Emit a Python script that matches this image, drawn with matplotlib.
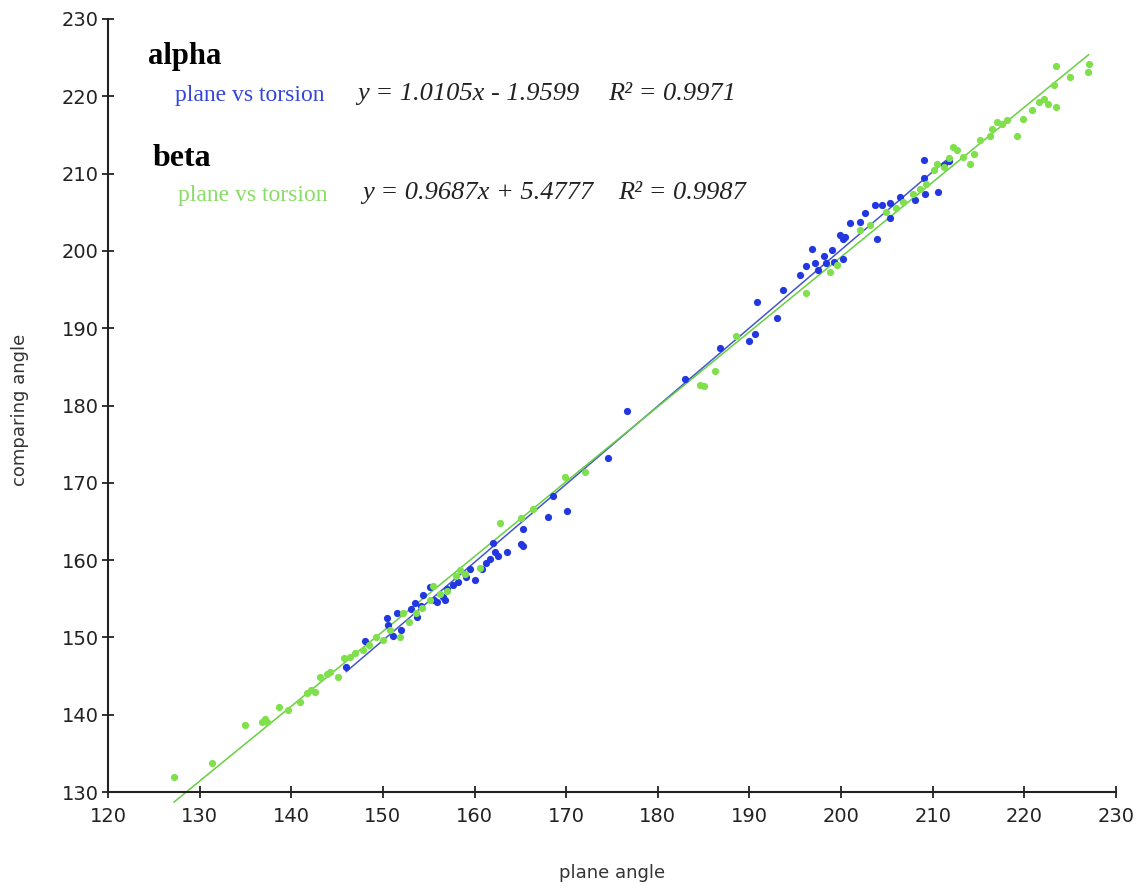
import matplotlib.pyplot as plt
import numpy as np

# alpha: plane vs torsion (blue)
alpha_x = [146.0, 148.0, 150.4, 150.6, 151.1, 151.5, 152.0, 153.1, 153.5, 153.7, 154.2, 154.4,
           155.1, 155.6, 155.9, 156.6, 156.8, 157.0, 157.7, 158.2, 159.1, 159.5, 160.0, 160.8,
           161.3, 161.7, 162.0, 162.2, 162.6, 163.5, 165.1, 165.3, 165.3, 168.0, 168.6, 170.1,
           174.6, 176.6, 183.0, 186.8, 190.0, 190.6, 190.8, 193.0, 193.7, 195.5, 196.2, 196.8,
           197.1, 197.5, 198.1, 198.4, 199.0, 199.2, 199.9, 200.2, 200.4, 200.2, 201.0, 202.1,
           202.6, 203.9, 203.7, 204.5, 205.3, 205.3, 206.4, 208.1, 209.0, 209.0, 209.2, 210.6,
           211.2, 211.8]
alpha_y = [146.2, 149.5, 152.5, 151.6, 150.2, 153.2, 151.0, 153.7, 154.5, 152.6, 154.0, 155.5,
           156.5, 154.8, 154.6, 155.2, 154.8, 156.3, 156.8, 157.2, 157.8, 158.9, 157.4, 158.8,
           159.6, 160.2, 162.2, 161.0, 160.5, 161.1, 162.1, 161.8, 164.0, 165.6, 168.3, 166.3,
           173.2, 179.3, 183.4, 187.5, 188.3, 189.2, 193.4, 191.3, 195.0, 196.9, 198.0, 200.2,
           198.4, 197.5, 199.3, 198.4, 200.1, 198.6, 202.1, 201.5, 201.8, 199.0, 203.6, 203.8,
           204.9, 201.6, 206.0, 205.9, 204.2, 206.2, 207.0, 206.6, 209.4, 211.7, 207.4, 207.6,
           211.1, 211.6]

# beta: plane vs torsion (green)
beta_x = [127.2, 131.4, 135.0, 136.8, 137.1, 137.4, 138.7, 139.6, 141.0, 141.7, 142.2, 142.6,
          143.1, 143.9, 144.2, 145.1, 145.7, 146.4, 147.0, 147.8, 148.5, 149.3, 150.0, 150.8,
          151.9, 152.2, 152.8, 153.6, 154.3, 155.1, 155.5, 156.2, 157.0, 158.0, 158.4, 159.0,
          160.6, 162.8, 165.1, 166.4, 169.9, 172.1, 184.6, 185.0, 186.2, 188.5, 196.2, 198.8,
          199.5, 202.1, 203.2, 204.9, 206.0, 206.8, 207.9, 208.6, 209.3, 210.1, 210.5, 211.2,
          211.8, 212.2, 212.6, 213.3, 214.1, 214.5, 215.2, 216.2, 216.5, 217.0, 217.6, 218.1,
          219.2, 219.9, 220.8, 221.6, 222.1, 222.6, 223.2, 223.5, 223.5, 225.0, 226.9, 227.0]
beta_y = [132.0, 133.8, 138.7, 139.0, 139.4, 139.1, 141.0, 140.6, 141.7, 142.8, 143.2, 142.9,
          144.9, 145.3, 145.5, 144.9, 147.3, 147.5, 148.0, 148.4, 149.0, 150.1, 149.6, 150.9,
          150.1, 153.2, 152.0, 153.2, 153.8, 154.8, 156.6, 155.6, 156.0, 158.0, 158.7, 158.2,
          159.0, 164.8, 165.4, 166.6, 170.7, 171.4, 182.7, 182.5, 184.4, 189.0, 194.6, 197.3,
          198.2, 202.7, 203.3, 205.0, 205.5, 206.3, 207.4, 208.0, 208.7, 210.5, 211.3, 210.8,
          212.0, 213.5, 213.1, 212.2, 211.3, 212.6, 214.3, 214.8, 215.8, 216.7, 216.4, 216.9,
          214.8, 217.1, 218.2, 219.3, 219.7, 219.0, 221.5, 218.6, 223.9, 222.5, 223.2, 224.2]

# trendline coefficients as printed on the chart
alpha_fit = (1.0105, -1.9599, 0.9971)
beta_fit = (0.9687, 5.4777, 0.9987)

blue = '#2237e0'
green = '#7fe04c'

fig = plt.figure(figsize=(11.38, 8.86), dpi=100)
ax = fig.add_axes([108 / 1138, 1 - 792 / 886, 1008 / 1138, 773 / 886])

ax.scatter(alpha_x, alpha_y, s=27, color=blue, linewidths=0, zorder=3)
ax.scatter(beta_x, beta_y, s=27, color=green, linewidths=0, zorder=3)

xa = np.array([min(alpha_x), max(alpha_x)])
ax.plot(xa, alpha_fit[0] * xa + alpha_fit[1], color='#4455cc', lw=1.1, zorder=2)
xb = np.array([min(beta_x), max(beta_x)])
ax.plot(xb, beta_fit[0] * xb + beta_fit[1], color='#66d040', lw=1.1, zorder=2, clip_on=False)

ax.set_xlim(120, 230)
ax.set_ylim(130, 230)
ax.set_xticks(np.arange(120, 231, 10))
ax.set_yticks(np.arange(130, 231, 10))
for s in ['top', 'right']:
    ax.spines[s].set_visible(False)
for s in ['left', 'bottom']:
    ax.spines[s].set_linewidth(1.5)
    ax.spines[s].set_color('#222222')
ax.tick_params(direction='inout', length=9, width=1.3, labelsize=14, colors='#222222', pad=2)
ax.tick_params(axis='x', pad=6)

ax.set_xlabel('plane angle', fontsize=13, color='#333333')
ax.set_ylabel('comparing angle', fontsize=13, color='#333333')
ax.xaxis.set_label_coords(0.5, -0.093)
ax.yaxis.set_label_coords(-0.078, 0.494)

# annotation block
def fx(px):
    return px / 1138

def fy(py):
    return 1 - py / 886

serif = 'Liberation Serif'
fig.text(fx(148), fy(64), 'alpha', fontsize=22, fontweight='bold', family=serif, va='baseline')
fig.text(fx(175), fy(101), 'plane vs torsion', fontsize=17, color='#3344dd', family=serif,
         va='baseline')
fig.text(fx(357), fy(100), 'y = %.4fx - %.4f' % (alpha_fit[0], -alpha_fit[1]), fontsize=19,
         style='italic', family=serif, va='baseline', color='#222222')
fig.text(fx(608), fy(100), 'R² = %.4f' % alpha_fit[2], fontsize=19, style='italic',
         family=serif, va='baseline', color='#222222')

fig.text(fx(153), fy(166), 'beta', fontsize=23, fontweight='bold', family=serif, va='baseline')
fig.text(fx(178), fy(201), 'plane vs torsion', fontsize=17, color='#88dd66', family=serif,
         va='baseline')
fig.text(fx(362), fy(199), 'y = %.4fx + %.4f' % (beta_fit[0], beta_fit[1]), fontsize=19,
         style='italic', family=serif, va='baseline', color='#222222')
fig.text(fx(618), fy(199), 'R² = %.4f' % beta_fit[2], fontsize=19, style='italic',
         family=serif, va='baseline', color='#222222')

fig.savefig('out.png', dpi=100)
